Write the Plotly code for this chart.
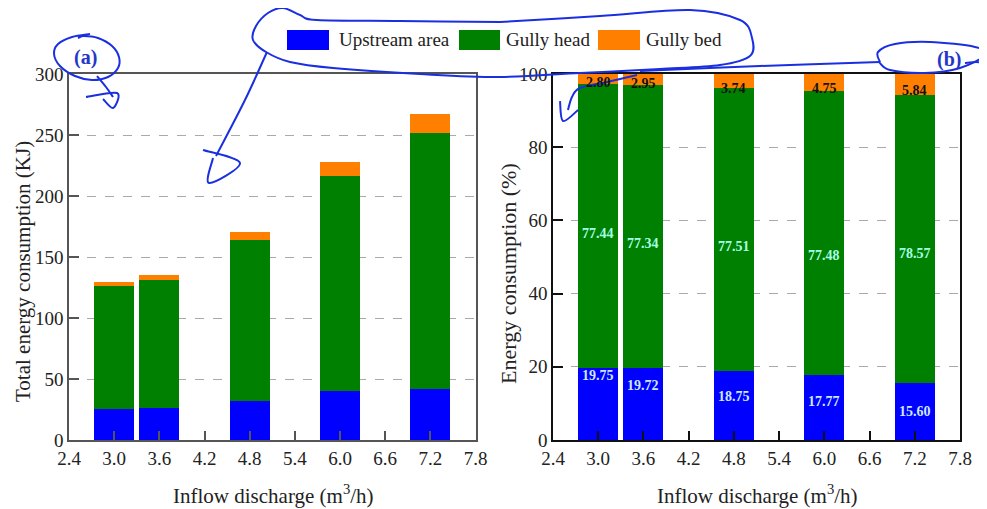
import plotly.graph_objects as go
from plotly.subplots import make_subplots

# ---------------- data ----------------
discharge = [3.0, 3.6, 4.8, 6.0, 7.2]
series_names = ["Upstream area", "Gully head", "Gully bed"]
# (a) total energy consumption, KJ
upstream_kj = [25.6, 26.6, 32.0, 40.4, 41.7]
head_kj = [100.3, 104.4, 132.2, 176.3, 210.0]
bed_kj = [3.6, 4.0, 6.4, 10.8, 15.6]
# (b) energy consumption share, %
upstream_pct = [19.75, 19.72, 18.75, 17.77, 15.60]
head_pct = [77.44, 77.34, 77.51, 77.48, 78.57]
bed_pct = [2.80, 2.95, 3.74, 4.75, 5.84]
x_ticks = [2.4, 3.0, 3.6, 4.2, 4.8, 5.4, 6.0, 6.6, 7.2, 7.8]

colors = ["#0000ff", "#008000", "#ff8000"]
FONT = "Liberation Serif, Times New Roman, serif"
OFF = 8  # page body margin
W, H = 987 - OFF, 509 - OFF
ML, MR, MT, MB = 69 - OFF, 27, 74 - OFF, 69
PW, PH = W - ML - MR, H - MT - MB


def px(x):
    return (x - OFF - ML) / PW


def py(y):
    return (H - MB - (y - OFF)) / PH


fig = make_subplots(rows=1, cols=2, horizontal_spacing=0.087)

for vals, name, col in zip([upstream_kj, head_kj, bed_kj], series_names, colors):
    fig.add_trace(go.Bar(x=discharge, y=vals, name=name, marker_color=col,
                         marker_line_width=0, width=0.53, showlegend=False),
                  row=1, col=1)
for vals, name, col in zip([upstream_pct, head_pct, bed_pct], series_names, colors):
    fig.add_trace(go.Bar(x=discharge, y=vals, name=name, marker_color=col,
                         marker_line_width=0, width=0.53, showlegend=False),
                  row=1, col=2)

fig.update_layout(barmode="stack", width=W, height=H,
                  margin=dict(l=ML, r=MR, t=MT, b=MB),
                  plot_bgcolor="white", paper_bgcolor="white",
                  font=dict(family=FONT, size=18, color="#222"))

xcommon = dict(range=[2.4, 7.8], tickmode="array", tickvals=x_ticks,
               ticktext=[f"{v:.1f}" for v in x_ticks], ticks="inside", ticklen=9,
               tickwidth=1.5, showline=True, mirror=True, linewidth=1.5,
               showgrid=False, zeroline=False, tickfont=dict(size=19))
fig.update_xaxes(xcommon)
fig.update_xaxes(domain=[0, px(475.6)], linecolor="#555", tickcolor="#555", row=1, col=1)
fig.update_xaxes(domain=[px(553), 1], linecolor="#111", tickcolor="#111", row=1, col=2)

ycommon = dict(ticks="inside", ticklen=10, tickwidth=1.5, showline=True, mirror=True,
               linewidth=1.5, showgrid=True, gridcolor="#aaaaaa", griddash="dash",
               gridwidth=1, zeroline=False, tickfont=dict(size=19))
fig.update_yaxes(ycommon)
fig.update_yaxes(range=[0, 300], dtick=50, linecolor="#555", tickcolor="#555", row=1, col=1)
fig.update_yaxes(range=[0, 100], dtick=20, linecolor="#111", tickcolor="#111", row=1, col=2)

# axis titles
titles = [
    ("Inflow discharge (m<sup>3</sup>/h)", 273, 494, 0, 21),
    ("Inflow discharge (m<sup>3</sup>/h)", 757, 494, 0, 21),
    ("Total energy consumption (KJ)", 23, 272, -90, 21),
    ("Energy consumption (%)", 508, 274, -90, 22),
]
for text, tx, ty, ang, fs in titles:
    fig.add_annotation(xref="paper", yref="paper", x=px(tx), y=py(ty), text=text,
                       textangle=ang, showarrow=False, xanchor="center", yanchor="middle",
                       font=dict(size=fs, color="#222"))

# value labels on panel (b)
up_label_y = [17.6, 14.8, 11.8, 10.5, 7.8]
head_label_y = [56.4, 53.7, 52.8, 50.3, 51.0]
bed_label_y = [97.8, 97.3, 96.0, 96.0, 95.5]
for xv, u, h, b, uy, hy, by in zip(discharge, upstream_pct, head_pct, bed_pct,
                                   up_label_y, head_label_y, bed_label_y):
    fig.add_annotation(x=xv, y=uy, xref="x2", yref="y2", text=f"<b>{u:.2f}</b>", showarrow=False,
                       font=dict(size=14, color="#cce8ff"))
    fig.add_annotation(x=xv, y=hy, xref="x2", yref="y2", text=f"<b>{h:.2f}</b>", showarrow=False,
                       font=dict(size=14, color="#a6ffe4"))
    fig.add_annotation(x=xv, y=by, xref="x2", yref="y2", text=f"<b>{b:.2f}</b>", showarrow=False,
                       font=dict(size=14, color="#111"))

# legend (drawn manually with large swatches)
legend_items = [(287, 329, 337), (459, 500, 504), (598, 640, 644)]
for (x0, x1, tx), name, col in zip(legend_items, series_names, colors):
    fig.add_shape(type="rect", xref="paper", yref="paper", x0=px(x0), x1=px(x1),
                  y0=py(50), y1=py(30), fillcolor=col, line_width=0)
    fig.add_annotation(xref="paper", yref="paper", x=px(tx), y=py(40), xanchor="left",
                       yanchor="middle", text=name, showarrow=False,
                       font=dict(size=19, color="#222"))

# panel labels
pen = "#1a2fe0"
fig.add_annotation(xref="paper", yref="paper", x=px(85), y=py(58), text="<b>(a)</b>",
                   xanchor="center", yanchor="middle",
                   showarrow=False, font=dict(size=20, color="#2436c8"))
fig.add_annotation(xref="paper", yref="paper", x=px(949), y=py(60), text="<b>(b)</b>",
                   xanchor="center", yanchor="middle",
                   showarrow=False, font=dict(size=20, color="#2436c8"))


def smooth_path(pts):
    p = [(px(a), py(b)) for a, b in pts]
    n = len(p)
    s = f"M {p[0][0]:.4f},{p[0][1]:.4f}"
    for i in range(n - 1):
        p0 = p[i - 1] if i > 0 else p[i]
        p1, p2 = p[i], p[i + 1]
        p3 = p[i + 2] if i + 2 < n else p2
        c1 = (p1[0] + (p2[0] - p0[0]) / 6, p1[1] + (p2[1] - p0[1]) / 6)
        c2 = (p2[0] - (p3[0] - p1[0]) / 6, p2[1] - (p3[1] - p1[1]) / 6)
        s += f" C {c1[0]:.4f},{c1[1]:.4f} {c2[0]:.4f},{c2[1]:.4f} {p2[0]:.4f},{p2[1]:.4f}"
    return s


scribbles = [
    # ellipse around (a) with arrow
    [(90, 34), (72, 37), (58, 44), (54, 54), (60, 66), (75, 76), (92, 80), (108, 77),
     (118, 68), (119, 57), (112, 46), (98, 38), (84, 36), (78, 38)],
    [(97, 76), (106, 87), (113, 97)],
    [(86, 97), (117, 93), (113, 108), (103, 99)],
    # loop around the legend
    [(500, 22), (400, 21), (317, 20), (300, 15), (283, 8), (268, 13), (256, 26), (253, 40),
     (266, 52), (290, 62), (333, 68), (420, 74), (500, 77), (580, 73), (660, 69), (720, 65),
     (750, 56), (752, 38), (740, 20), (690, 10), (600, 16), (500, 22)],
    # arrow from legend loop into panel (a)
    [(267, 52), (245, 100), (216, 156)],
    [(203, 150), (240, 163), (209, 183), (213, 158)],
    # line to (b) and ellipse around it
    [(640, 71), (760, 66), (880, 62)],
    [(880, 62), (878, 52), (895, 44), (930, 42), (975, 47), (985, 55), (960, 68), (925, 73),
     (890, 70), (879, 62)],
    [(965, 63), (976, 62), (987, 63)],
    # arrow into panel (b)
    [(637, 75), (607, 82), (580, 88), (572, 97), (568, 110)],
    [(560, 101), (563, 121), (578, 110)],
]
for pts in scribbles:
    fig.add_shape(type="path", xref="paper", yref="paper", path=smooth_path(pts),
                  line=dict(color=pen, width=2), layer="above")

fig.write_html("out.html")
